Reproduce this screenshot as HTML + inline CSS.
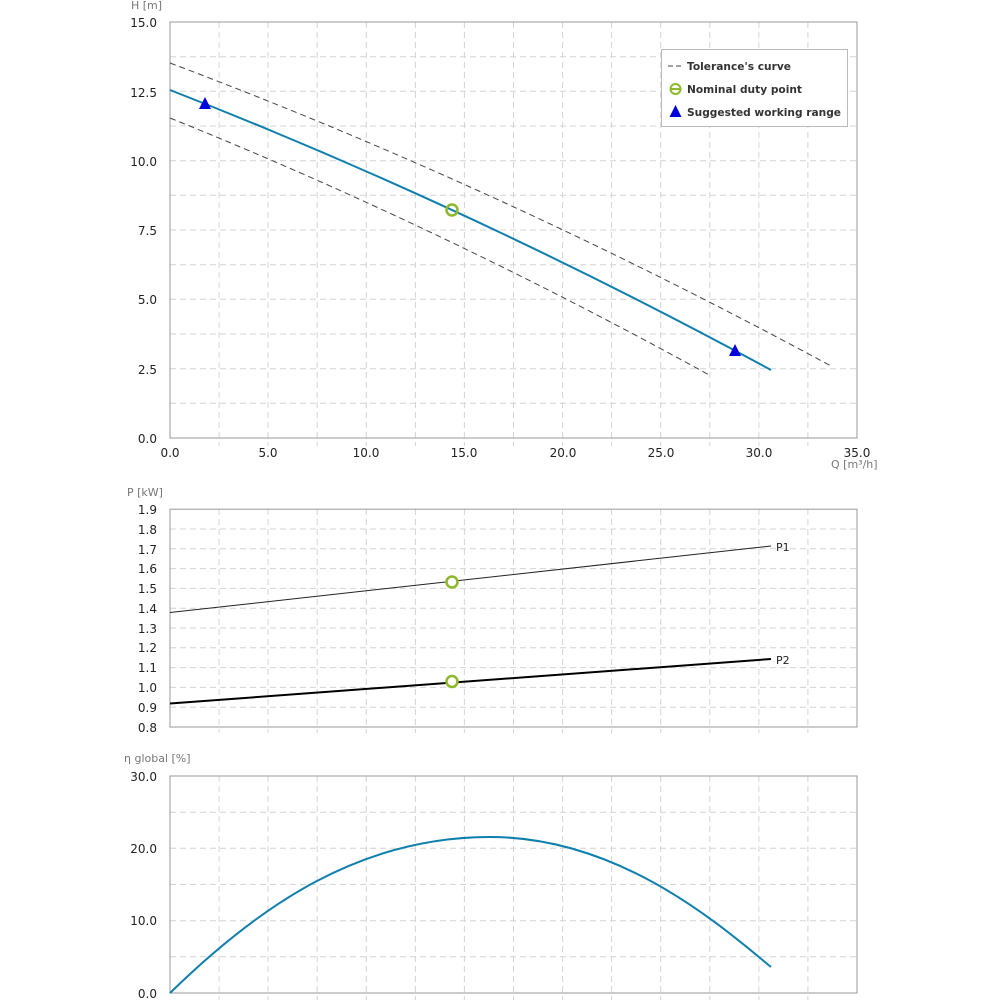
<!DOCTYPE html>
<html><head><meta charset="utf-8"><style>
html,body{margin:0;padding:0;background:#fff;}
svg{display:block;font-family:"DejaVu Sans","Liberation Sans",sans-serif;}
</style></head><body>
<svg width="1000" height="1000" viewBox="0 0 1000 1000" xmlns="http://www.w3.org/2000/svg">
<!-- TOP CHART -->
<g stroke="#d4d4d4" stroke-width="1" stroke-dasharray="6,4" fill="none">
<line x1="219.1" y1="22" x2="219.1" y2="446"/><line x1="268.1" y1="22" x2="268.1" y2="446"/><line x1="317.2" y1="22" x2="317.2" y2="446"/><line x1="366.3" y1="22" x2="366.3" y2="446"/><line x1="415.4" y1="22" x2="415.4" y2="446"/><line x1="464.4" y1="22" x2="464.4" y2="446"/><line x1="513.5" y1="22" x2="513.5" y2="446"/><line x1="562.6" y1="22" x2="562.6" y2="446"/><line x1="611.6" y1="22" x2="611.6" y2="446"/><line x1="660.7" y1="22" x2="660.7" y2="446"/><line x1="709.8" y1="22" x2="709.8" y2="446"/><line x1="758.9" y1="22" x2="758.9" y2="446"/><line x1="807.9" y1="22" x2="807.9" y2="446"/>
<line x1="170" x2="857" y1="403.3" y2="403.3"/><line x1="170" x2="857" y1="368.7" y2="368.7"/><line x1="170" x2="857" y1="334" y2="334"/><line x1="170" x2="857" y1="299.3" y2="299.3"/><line x1="170" x2="857" y1="264.7" y2="264.7"/><line x1="170" x2="857" y1="230" y2="230"/><line x1="170" x2="857" y1="195.3" y2="195.3"/><line x1="170" x2="857" y1="160.7" y2="160.7"/><line x1="170" x2="857" y1="126" y2="126"/><line x1="170" x2="857" y1="91.3" y2="91.3"/><line x1="170" x2="857" y1="56.7" y2="56.7"/>
</g>
<rect x="170" y="22" width="687" height="416" fill="none" stroke="#999" stroke-width="1"/>
<g font-size="12" fill="#222" text-anchor="end">
<text x="157" y="27">15.0</text><text x="157" y="97">12.5</text><text x="157" y="166">10.0</text><text x="157" y="235">7.5</text><text x="157" y="304">5.0</text><text x="157" y="374">2.5</text><text x="157" y="443">0.0</text>
</g>
<g font-size="12" fill="#222" text-anchor="middle">
<text x="170" y="457">0.0</text><text x="268" y="457">5.0</text><text x="366" y="457">10.0</text><text x="464" y="457">15.0</text><text x="563" y="457">20.0</text><text x="661" y="457">25.0</text><text x="759" y="457">30.0</text><text x="857" y="457">35.0</text>
</g>
<text x="131" y="9" font-size="11" fill="#777">H [m]</text>
<text x="831" y="468" font-size="11" fill="#777">Q [m³/h]</text>
<path d="M170,63 Q500,187 831,366" fill="none" stroke="#444" stroke-width="1" stroke-dasharray="6,4"/>
<path d="M170,118 Q440.5,227 711,376" fill="none" stroke="#444" stroke-width="1" stroke-dasharray="6,4"/>
<path d="M170,90 Q470.5,207.15 771,370" fill="none" stroke="#0f7fad" stroke-width="2"/>
<polygon points="205,97 199,109 211,109" fill="#0000dd"/>
<polygon points="735,344 729,356 741,356" fill="#0000dd"/>
<circle cx="452" cy="210" r="5.5" fill="none" stroke="#8cb82a" stroke-width="2.5"/>
<!-- legend -->
<rect x="661.5" y="49.5" width="186" height="77" fill="#fff" stroke="#bbb"/>
<line x1="668" x2="683" y1="66" y2="66" stroke="#444" stroke-dasharray="5,3"/>
<circle cx="675.5" cy="89" r="5" fill="none" stroke="#8cb82a" stroke-width="2"/>
<line x1="670" x2="681" y1="89" y2="89" stroke="#8cb82a" stroke-width="2"/>
<polygon points="675.5,105 669.5,117 681.5,117" fill="#0000dd"/>
<g font-size="11" font-weight="bold" fill="#333">
<text x="687" y="70" textLength="104" lengthAdjust="spacingAndGlyphs">Tolerance's curve</text>
<text x="687" y="93" textLength="115" lengthAdjust="spacingAndGlyphs">Nominal duty point</text>
<text x="687" y="116" textLength="154" lengthAdjust="spacingAndGlyphs">Suggested working range</text>
</g>
<!-- MIDDLE CHART -->
<g stroke="#d4d4d4" stroke-width="1" stroke-dasharray="6,4" fill="none">
<line x1="219.1" y1="509" x2="219.1" y2="733"/><line x1="268.1" y1="509" x2="268.1" y2="733"/><line x1="317.2" y1="509" x2="317.2" y2="733"/><line x1="366.3" y1="509" x2="366.3" y2="733"/><line x1="415.4" y1="509" x2="415.4" y2="733"/><line x1="464.4" y1="509" x2="464.4" y2="733"/><line x1="513.5" y1="509" x2="513.5" y2="733"/><line x1="562.6" y1="509" x2="562.6" y2="733"/><line x1="611.6" y1="509" x2="611.6" y2="733"/><line x1="660.7" y1="509" x2="660.7" y2="733"/><line x1="709.8" y1="509" x2="709.8" y2="733"/><line x1="758.9" y1="509" x2="758.9" y2="733"/><line x1="807.9" y1="509" x2="807.9" y2="733"/>
<line x1="170" x2="857" y1="707.2" y2="707.2"/><line x1="170" x2="857" y1="687.4" y2="687.4"/><line x1="170" x2="857" y1="667.6" y2="667.6"/><line x1="170" x2="857" y1="647.8" y2="647.8"/><line x1="170" x2="857" y1="628" y2="628"/><line x1="170" x2="857" y1="608.2" y2="608.2"/><line x1="170" x2="857" y1="588.4" y2="588.4"/><line x1="170" x2="857" y1="568.6" y2="568.6"/><line x1="170" x2="857" y1="548.8" y2="548.8"/><line x1="170" x2="857" y1="529" y2="529"/>
</g>
<rect x="170" y="509.2" width="687" height="217.8" fill="none" stroke="#999"/>
<g font-size="12" fill="#222" text-anchor="end">
<text x="157" y="514">1.9</text><text x="157" y="534">1.8</text><text x="157" y="554">1.7</text><text x="157" y="573">1.6</text><text x="157" y="593">1.5</text><text x="157" y="613">1.4</text><text x="157" y="633">1.3</text><text x="157" y="652">1.2</text><text x="157" y="672">1.1</text><text x="157" y="692">1.0</text><text x="157" y="712">0.9</text><text x="157" y="732">0.8</text>
</g>
<text x="127" y="496" font-size="11" fill="#777">P [kW]</text>
<line x1="170" y1="612.5" x2="771" y2="546" stroke="#222" stroke-width="1"/>
<line x1="170" y1="703.5" x2="771" y2="659" stroke="#000" stroke-width="2"/>
<circle cx="452" cy="582" r="5.5" fill="#fff" stroke="#8cb82a" stroke-width="2.5"/>
<circle cx="452" cy="681.5" r="5.5" fill="#fff" stroke="#8cb82a" stroke-width="2.5"/>
<text x="776" y="551" font-size="11" fill="#222">P1</text>
<text x="776" y="664" font-size="11" fill="#222">P2</text>
<!-- BOTTOM CHART -->
<g stroke="#d4d4d4" stroke-width="1" stroke-dasharray="6,4" fill="none">
<line x1="219.1" y1="776" x2="219.1" y2="1000"/><line x1="268.1" y1="776" x2="268.1" y2="1000"/><line x1="317.2" y1="776" x2="317.2" y2="1000"/><line x1="366.3" y1="776" x2="366.3" y2="1000"/><line x1="415.4" y1="776" x2="415.4" y2="1000"/><line x1="464.4" y1="776" x2="464.4" y2="1000"/><line x1="513.5" y1="776" x2="513.5" y2="1000"/><line x1="562.6" y1="776" x2="562.6" y2="1000"/><line x1="611.6" y1="776" x2="611.6" y2="1000"/><line x1="660.7" y1="776" x2="660.7" y2="1000"/><line x1="709.8" y1="776" x2="709.8" y2="1000"/><line x1="758.9" y1="776" x2="758.9" y2="1000"/><line x1="807.9" y1="776" x2="807.9" y2="1000"/>
<line x1="170" x2="857" y1="956.8" y2="956.8"/><line x1="170" x2="857" y1="920.7" y2="920.7"/><line x1="170" x2="857" y1="884.5" y2="884.5"/><line x1="170" x2="857" y1="848.3" y2="848.3"/><line x1="170" x2="857" y1="812.2" y2="812.2"/>
</g>
<path d="M170,776 V993 H857 V776 Z" fill="none" stroke="#999"/>
<g font-size="12" fill="#222" text-anchor="end">
<text x="157" y="781">30.0</text><text x="157" y="853">20.0</text><text x="157" y="925">10.0</text><text x="157" y="998">0.0</text>
</g>
<text x="124" y="762" font-size="11" fill="#777">η global [%]</text>
<path d="M170,993 C260,905 360,837 490,837 C620,837 720,925 771,967" fill="none" stroke="#0f7fad" stroke-width="2"/>
</svg>
</body></html>
